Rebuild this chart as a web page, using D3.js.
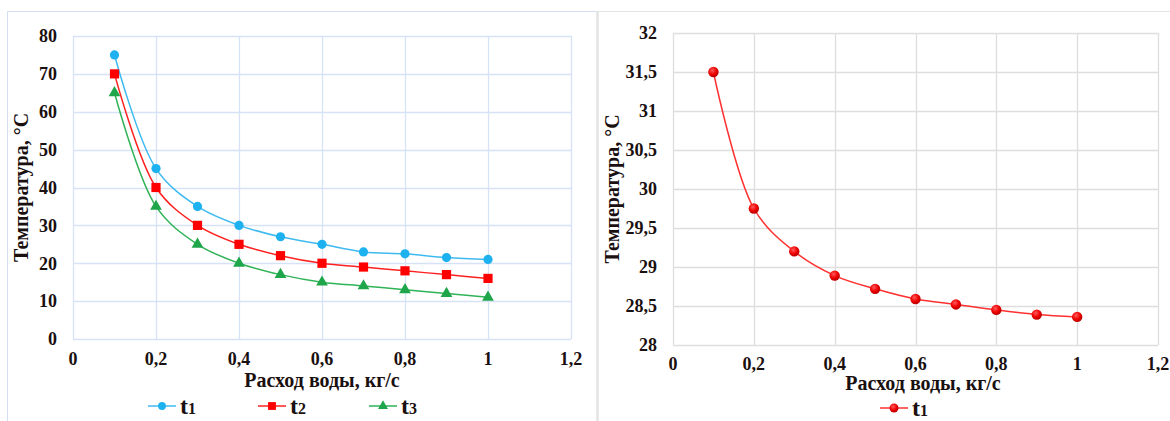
<!DOCTYPE html>
<html>
<head>
<meta charset="utf-8">
<script src="https://cdn.jsdelivr.net/npm/d3@7"></script>
<style>
  html, body { margin: 0; padding: 0; background: #fff; }
  svg text { font-family: "Liberation Serif", "DejaVu Serif", "Times New Roman", serif; }
</style>
</head>
<body>
<div id="app"></div>
<script>
// flow rates, kg/s
const flow = [0.1, 0.2, 0.3, 0.4, 0.5, 0.6, 0.7, 0.8, 0.9, 1.0]

// left chart series
const t1 = [75, 45, 35, 30, 27, 25, 23, 22.5, 21.5, 21]
const t2 = [70, 40, 30, 25, 22, 20, 19, 18, 17, 16]
const t3 = [65, 35, 25, 20, 17, 15, 14, 13, 12, 11]

// right chart series
const t1b = [31.5, 29.75, 29.2, 28.89, 28.72, 28.59, 28.52, 28.45, 28.39, 28.36]

const xTicks = [0, 0.2, 0.4, 0.6, 0.8, 1, 1.2]
const yTicksLeft = [0, 10, 20, 30, 40, 50, 60, 70, 80]
const yTicksRight = [28, 28.5, 29, 29.5, 30, 30.5, 31, 31.5, 32]

const xTitle = "Расход воды, кг/с"
const yTitle = "Температура, °С"

const width = 1170
const height = 421
const serif = "Liberation Serif, DejaVu Serif, serif"
const ink = "#1a1010"
const comma = d => String(d).replace(".", ",")

const svg = d3.select("#app").append("svg")
    .attr("width", width)
    .attr("height", height)
    .attr("font-family", serif)

// panel frames
svg.append("path")
    .attr("d", "M7.5,421 V11.5 H597")
    .attr("fill", "none")
    .attr("stroke", "#d3def2")
    .attr("stroke-width", 1)
svg.append("path")
    .attr("d", "M597,11.5 H1170")
    .attr("fill", "none")
    .attr("stroke", "#e3e3e3")
    .attr("stroke-width", 1)
svg.append("line")
    .attr("x1", 597.5).attr("x2", 597.5)
    .attr("y1", 11).attr("y2", 421)
    .attr("stroke", "#e3e3e3")
    .attr("stroke-width", 2.5)

function marker(g, shape, color, size) {
    if (shape === "circle") {
        g.append("circle").attr("r", size).attr("fill", color)
    } else if (shape === "square") {
        g.append("rect")
            .attr("x", -size).attr("y", -size)
            .attr("width", size * 2).attr("height", size * 2)
            .attr("fill", color)
    } else if (shape === "triangle") {
        g.append("path")
            .attr("d", d3.symbol(d3.symbolTriangle, size * size * 2.2)())
            .attr("fill", color)
    } else if (shape === "ball") {
        g.append("circle").attr("r", size).attr("fill", "url(#ball)")
    }
}

const defs = svg.append("defs")
const grad = defs.append("radialGradient").attr("id", "ball")
    .attr("cx", "40%").attr("cy", "35%").attr("r", "65%")
grad.append("stop").attr("offset", "0%").attr("stop-color", "#ff5a5a")
grad.append("stop").attr("offset", "60%").attr("stop-color", "#ee0000")
grad.append("stop").attr("offset", "100%").attr("stop-color", "#b80000")

function chart(opt) {
    const x = d3.scaleLinear().domain([0, 1.2]).range([opt.left, opt.right])
    const y = d3.scaleLinear().domain(opt.yDomain).range([opt.bottom, opt.top])
    const g = svg.append("g")

    // grid
    g.append("g").selectAll("line").data(opt.yTicks).join("line")
        .attr("x1", opt.left).attr("x2", opt.right)
        .attr("y1", d => Math.round(y(d)) + 0.5).attr("y2", d => Math.round(y(d)) + 0.5)
        .attr("stroke", opt.grid).attr("stroke-width", 1.3)
    g.append("g").selectAll("line").data(xTicks).join("line")
        .attr("y1", opt.top).attr("y2", opt.bottom)
        .attr("x1", d => Math.round(x(d)) + 0.5).attr("x2", d => Math.round(x(d)) + 0.5)
        .attr("stroke", opt.grid).attr("stroke-width", 1.3)

    // tick labels
    g.append("g").selectAll("text").data(opt.yTicks).join("text")
        .attr("x", opt.left - 16)
        .attr("y", d => y(d))
        .attr("dy", "0.35em")
        .attr("text-anchor", "end")
        .attr("font-family", serif)
        .attr("font-size", 18)
        .attr("font-weight", "bold")
        .attr("fill", ink)
        .text(comma)
    g.append("g").selectAll("text").data(xTicks).join("text")
        .attr("x", d => x(d))
        .attr("y", opt.xLabelY)
        .attr("dy", "0.35em")
        .attr("text-anchor", "middle")
        .attr("font-family", serif)
        .attr("font-size", 18)
        .attr("font-weight", "bold")
        .attr("fill", ink)
        .text(comma)

    // axis titles
    g.append("text")
        .attr("x", opt.xTitleX)
        .attr("y", opt.xTitleY)
        .attr("dy", "0.35em")
        .attr("text-anchor", "middle")
        .attr("font-family", serif)
        .attr("font-size", 20)
        .attr("font-weight", "bold")
        .attr("fill", ink)
        .text(xTitle)
    g.append("text")
        .attr("transform", `translate(${opt.yTitleX},${(opt.top + opt.bottom) / 2}) rotate(-90)`)
        .attr("dy", "0.35em")
        .attr("text-anchor", "middle")
        .attr("font-family", serif)
        .attr("font-size", 20)
        .attr("font-weight", "bold")
        .attr("fill", ink)
        .text(yTitle)

    const line = d3.line()
        .x((d, i) => x(flow[i]))
        .y(d => y(d))
        .curve(d3.curveCatmullRom.alpha(0.5))

    opt.series.forEach(s => {
        g.append("path")
            .attr("d", line(s.values))
            .attr("fill", "none")
            .attr("stroke", s.line)
            .attr("stroke-width", 1.5)
        s.values.forEach((v, i) => {
            const m = g.append("g").attr("transform", `translate(${x(flow[i])},${y(v)})`)
            marker(m, s.shape, s.color, s.size)
        })

        // legend entry
        const lg = g.append("g").attr("transform", `translate(${s.legendX},${opt.legendY})`)
        lg.append("line").attr("x1", 0).attr("x2", 28)
            .attr("stroke", s.line).attr("stroke-width", 1.5)
        const m = lg.append("g").attr("transform", "translate(14,0)")
        marker(m, s.shape, s.color, s.size * 0.85)
        const t = lg.append("text")
            .attr("x", 32)
            .attr("y", 8)
            .attr("font-family", serif)
            .attr("font-weight", "bold")
            .attr("fill", ink)
        t.append("tspan").attr("font-size", 24).text("t")
        t.append("tspan").attr("font-size", 16).text(s.sub)
    })
}

chart({
    left: 73, right: 571, top: 36, bottom: 339,
    yDomain: [0, 80], yTicks: yTicksLeft,
    grid: "#d6e2f5",
    xLabelY: 359, xTitleX: 322, xTitleY: 380, yTitleX: 21, legendY: 406,
    series: [
        { values: t1, sub: "1", color: "#1eb1ef", line: "#3fbaf0", shape: "circle", size: 4.6, legendX: 148 },
        { values: t2, sub: "2", color: "#ff0000", line: "#ff2020", shape: "square", size: 4.6, legendX: 258 },
        { values: t3, sub: "3", color: "#1fa64a", line: "#2fb356", shape: "triangle", size: 5.2, legendX: 369 }
    ]
})

chart({
    left: 673, right: 1158, top: 33, bottom: 345,
    yDomain: [28, 32], yTicks: yTicksRight,
    grid: "#dedede",
    xLabelY: 364, xTitleX: 923, xTitleY: 383, yTitleX: 612, legendY: 408,
    series: [
        { values: t1b, sub: "1", color: "#ee0000", line: "#ff3030", shape: "ball", size: 5.2, legendX: 880 }
    ]
})
</script>
</body>
</html>
